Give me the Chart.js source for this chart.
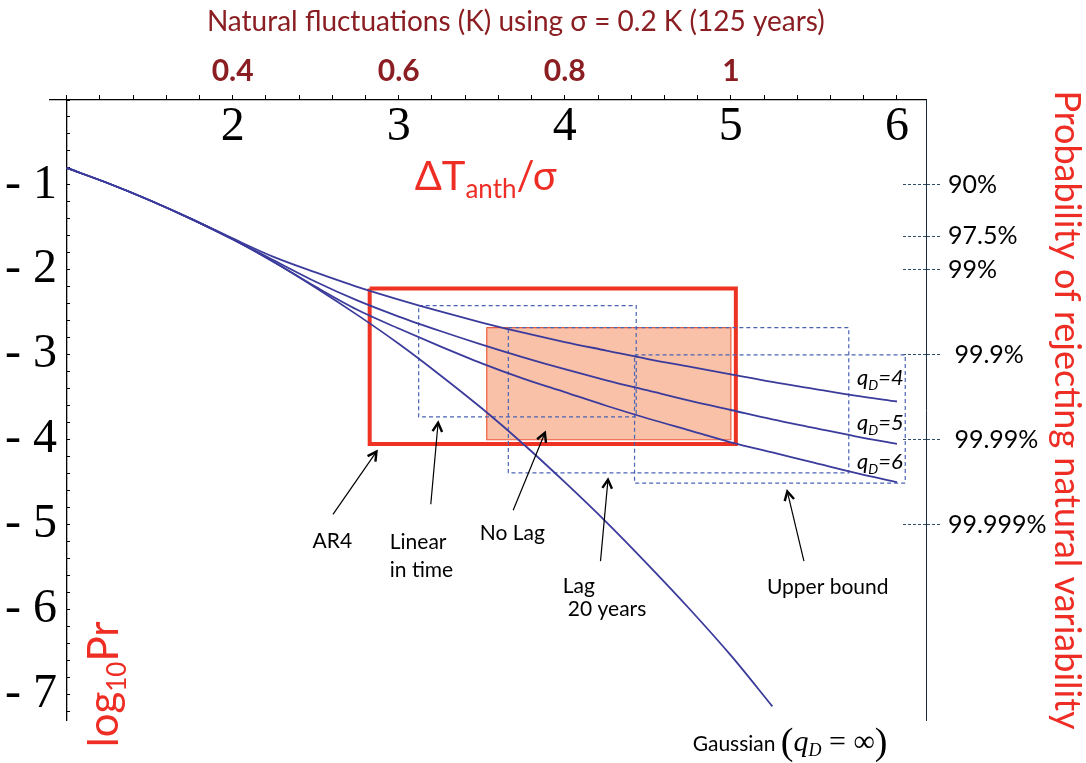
<!DOCTYPE html>
<html lang="en">
<head>
  <meta charset="UTF-8">
  <title>Probability of rejecting natural variability</title>
  <script src="https://cdn.jsdelivr.net/npm/chart.js"></script>
  <style>
    html, body { margin: 0; padding: 0; background: #fff; }
    #wrap { width: 1086px; height: 763px; }
  </style>
</head>
<body>
<div id="wrap"><canvas id="chart"></canvas></div>
<script>
  // DeltaT/sigma values where the curves were read
  const xVals = [1, 1.25, 1.5, 1.75, 2, 2.25, 2.5, 2.75, 3, 3.25, 3.5, 3.75, 4, 4.25, 4.5, 4.75, 5, 5.25, 5.5, 5.75, 6];
  // log10 Pr
  const gaussian = [-0.80, -0.98, -1.18, -1.40, -1.64, -1.91, -2.21, -2.53, -2.87, -3.24, -3.63, -4.05, -4.50, -4.97, -5.47, -5.99, -6.54, -7.14];
  const qD4 = [-0.80, -0.98, -1.18, -1.40, -1.63, -1.85, -2.03, -2.20, -2.35, -2.49, -2.62, -2.74, -2.85, -2.95, -3.05, -3.14, -3.23, -3.32, -3.40, -3.48, -3.55];
  const qD5 = [-0.80, -0.98, -1.18, -1.40, -1.64, -1.89, -2.14, -2.36, -2.55, -2.72, -2.88, -3.03, -3.17, -3.30, -3.42, -3.54, -3.65, -3.76, -3.86, -3.96, -4.05];
  const qD6 = [-0.80, -0.98, -1.18, -1.40, -1.64, -1.91, -2.20, -2.47, -2.69, -2.90, -3.10, -3.28, -3.44, -3.60, -3.75, -3.89, -4.03, -4.15, -4.27, -4.39, -4.50];

  // boxes: [x left, x right, y top, y bottom]
  const boxAR4 = [2.825, 5.03, -2.22, -4.05];
  const boxNoLag = [3.53, 5.00, -2.68, -4.00];
  const boxLinear = [3.12, 4.43, -2.42, -3.73];
  const boxLag20 = [3.66, 5.71, -2.68, -4.39];
  const boxUpper = [4.42, 6.05, -3.00, -4.51];

  // axes ticks
  const xTicks = [2, 3, 4, 5, 6];
  const topTicks = [0.4, 0.6, 0.8, 1];
  const yTicks = [-1, -2, -3, -4, -5, -6, -7];
  const pctValues = [-1, -1.602, -2, -3, -4, -5];
  const pctLabels = ['90%', '97.5%', '99%', ' 99.9%', ' 99.99%', '99.999%'];

  // arrows [from x, from y, to x, to y] in data units
  const arrows = [
    [2.604, -4.88, 2.866, -4.14],
    [3.193, -4.76, 3.237, -3.80],
    [3.689, -4.83, 3.880, -3.92],
    [4.215, -5.43, 4.260, -4.47],
    [5.440, -5.43, 5.340, -4.61]
  ];

  const BLUE = '#3b3b9c';
  const DASH = '#4a64b4';
  const RED = '#ee3322';
  const TXT_RED = '#ee2d24';
  const DARK_RED = '#8a1e22';

  const pts = (xs, ys) => ys.map((v, i) => ({x: xs[i], y: v}));
  const rect = b => [
    {x: b[0], y: b[2]}, {x: b[1], y: b[2]}, {x: b[1], y: b[3]}, {x: b[0], y: b[3]}, {x: b[0], y: b[2]}
  ];

  const curve = (data) => ({
    data: data, showLine: true, borderColor: BLUE, borderWidth: 1.8,
    pointRadius: 0, cubicInterpolationMode: 'monotone', order: 0, xAxisID: 'x', yAxisID: 'y'
  });
  const dashedBox = (b) => ({
    data: rect(b), showLine: true, borderColor: DASH, borderWidth: 1.2, borderDash: [4, 3],
    pointRadius: 0, tension: 0, order: 1, xAxisID: 'x', yAxisID: 'y'
  });

  const datasets = [
    curve(pts(xVals, gaussian)),
    curve(pts(xVals, qD4)),
    curve(pts(xVals, qD5)),
    curve(pts(xVals, qD6)),
    dashedBox(boxLinear),
    dashedBox(boxLag20),
    dashedBox(boxUpper),
    { data: rect(boxAR4), showLine: true, borderColor: RED, borderWidth: 4, pointRadius: 0,
      tension: 0, order: 2, xAxisID: 'x', yAxisID: 'y' },
    { data: rect(boxNoLag), showLine: true, borderColor: '#f05a3c', borderWidth: 1.2,
      backgroundColor: '#f9c1a8', fill: 'shape', pointRadius: 0, tension: 0, order: 3,
      xAxisID: 'x', yAxisID: 'y' }
  ];

  // minor ticks every 0.2 on both axes
  const minorX = [];
  for (let i = 0; i <= 25; i++) minorX.push({value: Math.round((0.2 + i * 0.04) * 1000) / 1000});
  const minorY = [];
  for (let i = 0; i <= 36; i++) minorY.push({value: -Math.round(i * 2) / 10});

  function drawRuns(ctx, runs, x, y, align, color) {
    ctx.fillStyle = color || '#000';
    ctx.textBaseline = 'alphabetic';
    ctx.textAlign = 'left';
    let total = 0;
    runs.forEach(r => { ctx.font = r[1]; total += ctx.measureText(r[0]).width; });
    let cx = align === 'center' ? x - total / 2 : x;
    runs.forEach(r => {
      ctx.font = r[1];
      ctx.fillText(r[0], cx, y + (r[2] || 0));
      cx += ctx.measureText(r[0]).width;
    });
  }

  const F = '21px Lato';
  const notes = [
    {x: 2.60, y: -5.27, align: 'center', runs: [['AR4', F]]},
    {x: 2.946, y: -5.29, runs: [['Linear', F]]},
    {x: 2.946, y: -5.62, runs: [['in time', F]]},
    {x: 3.488, y: -5.18, runs: [['No Lag', F]]},
    {x: 3.988, y: -5.81, runs: [['Lag', F]]},
    {x: 4.018, y: -6.08, runs: [['20 years', F]]},
    {x: 5.217, y: -5.82, runs: [['Upper bound', F]]},
    {x: 5.76, y: -3.35, runs: [['q', 'italic 22px Lato'], ['D', 'italic 14px Lato', 5], ['=4', 'italic 22px Lato']]},
    {x: 5.76, y: -3.88, runs: [['q', 'italic 22px Lato'], ['D', 'italic 14px Lato', 5], ['=5', 'italic 22px Lato']]},
    {x: 5.76, y: -4.34, runs: [['q', 'italic 22px Lato'], ['D', 'italic 14px Lato', 5], ['=6', 'italic 22px Lato']]},
    {x: 4.77, y: -7.67, runs: [['Gaussian ', F], ['(', '38px "Liberation Serif"', 3],
      ['q', 'italic 30px "Liberation Serif"'], ['D', 'italic 18px "Liberation Serif"', 5],
      [' = \u221E', '30px "Liberation Serif"'], [')', '38px "Liberation Serif"', 3]]},
    {x: 3.096, y: -1.06, color: TXT_RED, runs: [['\u0394T', '40px Lato'], ['anth', '26px Lato', 8], ['/\u03C3', '40px Lato']]}
  ];

  const annotate = {
    id: 'annotate',
    afterDraw(chart) {
      const {ctx, chartArea, scales: {x, y}} = chart;
      ctx.save();
      ctx.strokeStyle = '#000';
      arrows.forEach(a => {
        const x1 = x.getPixelForValue(a[0]), y1 = y.getPixelForValue(a[1]);
        const x2 = x.getPixelForValue(a[2]), y2 = y.getPixelForValue(a[3]);
        ctx.lineWidth = 1.2;
        ctx.beginPath(); ctx.moveTo(x1, y1); ctx.lineTo(x2, y2); ctx.stroke();
        const ang = Math.atan2(y2 - y1, x2 - x1);
        ctx.lineWidth = 2.4;
        ctx.beginPath();
        ctx.moveTo(x2 - 10 * Math.cos(ang - 0.5), y2 - 10 * Math.sin(ang - 0.5));
        ctx.lineTo(x2, y2);
        ctx.lineTo(x2 - 10 * Math.cos(ang + 0.5), y2 - 10 * Math.sin(ang + 0.5));
        ctx.stroke();
      });
      notes.forEach(n => drawRuns(ctx, n.runs, x.getPixelForValue(n.x), y.getPixelForValue(n.y), n.align, n.color));

      // top title
      drawRuns(ctx, [['Natural fluctuations (K) using \u03C3 = 0.2 K (125 years)', '28px Lato']],
        x.getPixelForValue(3.705), chartArea.top - 69, 'center', DARK_RED);

      // log10 Pr, rotated
      ctx.translate(x.getPixelForValue(1.31), y.getPixelForValue(-7.62));
      ctx.rotate(-Math.PI / 2);
      drawRuns(ctx, [['log', '42px Lato'], ['10', '26px Lato', 8], ['Pr', '42px Lato']], 0, 0, 'left', TXT_RED);
      ctx.restore();
    }
  };

  new Chart(document.getElementById('chart'), {
    type: 'scatter',
    data: { datasets: datasets },
    options: {
      responsive: true,
      maintainAspectRatio: false,
      animation: false,
      layout: { padding: { left: 50, right: 0, top: 0, bottom: 43 } },
      plugins: { legend: { display: false }, tooltip: { enabled: false } },
      scales: {
        x: {
          type: 'linear', axis: 'x', min: 0.9, max: 6.175, position: { y: 0 },
          afterBuildTicks: s => { s.ticks = xTicks.map(v => ({value: v})); },
          ticks: { callback: v => String(v), color: '#000', padding: 3, autoSkip: false, maxRotation: 0,
                   font: { family: '"Liberation Serif"', size: 48, lineHeight: 1 } },
          grid: { drawOnChartArea: false, drawTicks: false },
          border: { display: false }
        },
        x2: {
          type: 'linear', axis: 'x', position: 'top', min: 0.18, max: 1.235,
          afterFit: s => { s.height = 100; },
          afterBuildTicks: s => { s.ticks = minorX.map(t => ({value: t.value})); },
          ticks: {
            callback: v => topTicks.some(t => Math.abs(t - v) < 1e-6) ? String(v) : '',
            color: DARK_RED, padding: 9, autoSkip: false, maxRotation: 0,
            font: { family: 'Lato', size: 30, weight: 'bold', lineHeight: 1 }
          },
          grid: { drawOnChartArea: false, tickLength: 5, tickColor: '#000', tickWidth: 1 },
          border: { color: '#000', width: 1.3 }
        },
        y: {
          type: 'linear', axis: 'y', min: -7.3, max: 0, position: { x: 1 },
          afterBuildTicks: s => { s.ticks = minorY.map(t => ({value: t.value})); },
          ticks: {
            callback: v => yTicks.includes(v) ? '- ' + Math.abs(v) + '\u2009' : '',
            color: '#000', autoSkip: false,
            font: { family: '"Liberation Serif"', size: 48, lineHeight: 1 }
          },
          grid: { drawOnChartArea: false, tickLength: -4, tickColor: '#000', tickWidth: 1 },
          border: { color: '#000', width: 1.3 }
        },
        y2: {
          type: 'linear', axis: 'y', min: -7.3, max: 0, position: 'right',
          afterFit: s => { s.width = 160; },
          afterBuildTicks: s => { s.ticks = pctValues.map(v => ({value: v})); },
          ticks: {
            callback: (v, i) => pctLabels[i], color: '#000', padding: 8, autoSkip: false,
            font: { family: 'Lato', size: 25 }
          },
          grid: { drawOnChartArea: false, tickLength: 14, tickColor: '#2f4d6b', tickWidth: 1.2, tickBorderDash: [3, 2] },
          border: { color: '#1a2a40', width: 1 },
          title: { display: true, text: 'Probability of rejecting natural variability', color: TXT_RED,
                   font: { family: 'Lato', size: 36, lineHeight: 1 }, padding: 1 }
        },
        y3: {
          type: 'linear', axis: 'y', min: -7.3, max: 0, position: { x: 6.175 },
          afterBuildTicks: s => { s.ticks = pctValues.map(v => ({value: v})); },
          ticks: { callback: () => '', autoSkip: false },
          grid: { drawOnChartArea: false, tickLength: 24, tickColor: '#2f4d6b', tickWidth: 1.2, tickBorderDash: [3, 2] },
          border: { display: false }
        }
      }
    },
    plugins: [annotate]
  });
</script>
</body>
</html>
